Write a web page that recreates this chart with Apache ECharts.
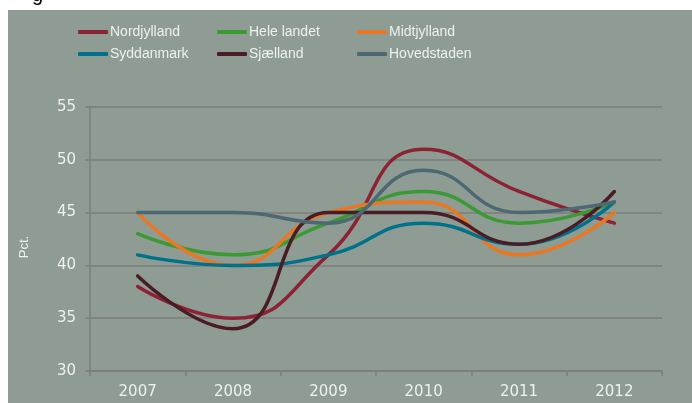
<!DOCTYPE html>
<html>
<head>
<meta charset="utf-8">
<script src="https://cdn.jsdelivr.net/npm/echarts@6/dist/echarts.min.js"></script>
<style>
  html, body { margin: 0; padding: 0; background: #fff; }
  #chart { width: 692px; height: 403px; }
</style>
</head>
<body>
<div id="chart"></div>
<script>
const years = ["2007", "2008", "2009", "2010", "2011", "2012"];

const nordjylland = [38, 35, 41, 51, 47, 44];
const heleLandet = [43, 41, 44, 47, 44, 46];
const midtjylland = [45, 40, 45, 46, 41, 45];
const syddanmark = [41, 40, 41, 44, 42, 46];
const sjaelland = [39, 34, 45, 45, 42, 47];
const hovedstaden = [45, 45, 44, 49, 45, 46];

const seriesDefs = [
  { name: "Nordjylland", data: nordjylland, color: "#8c2335", left: 78, top: 25 },
  { name: "Hele landet", data: heleLandet, color: "#3b9a34", left: 217, top: 25 },
  { name: "Midtjylland", data: midtjylland, color: "#ea7722", left: 357, top: 25 },
  { name: "Syddanmark", data: syddanmark, color: "#00718b", left: 78, top: 47 },
  { name: "Sjælland", data: sjaelland, color: "#4a1d26", left: 217, top: 47 },
  { name: "Hovedstaden", data: hovedstaden, color: "#4d6873", left: 357, top: 47 },
];

const textColor = "#eef1ee";
const gridColor = "#7b7e7b";

const chart = echarts.init(document.getElementById("chart"));
chart.setOption({
  backgroundColor: "#fff",
  animation: false,
  graphic: [
    { type: "rect", z: -10, silent: true, shape: { x: 8, y: 10, width: 684, height: 393 }, style: { fill: "#8e9c94" } },
    { type: "text", left: 32, top: -15, style: { text: "g", fontSize: 20, fill: "#000", fontFamily: "Liberation Sans" } },
    { type: "text", x: 24, y: 247, rotation: Math.PI / 2, style: { text: "Pct.", fontSize: 13, fill: textColor, fontFamily: "Liberation Sans", align: "center", verticalAlign: "middle" } },
  ],
  legend: seriesDefs.map(s => ({
    data: [s.name],
    left: s.left,
    top: s.top,
    padding: 0,
    itemWidth: 30,
    itemHeight: 4,
    itemGap: 2,
    icon: "roundRect",
    textStyle: { color: textColor, fontSize: 14, fontFamily: "Liberation Sans", padding: [0, 0, 0, -3] },
  })),
  grid: { left: 90, right: 30, top: 107, bottom: 32 },
  xAxis: {
    type: "category",
    data: years,
    boundaryGap: true,
    axisLine: { lineStyle: { color: gridColor, width: 1.5 } },
    axisTick: { show: true, length: 5, lineStyle: { color: gridColor, width: 1.5 } },
    axisLabel: { color: textColor, fontSize: 15, fontFamily: "DejaVu Sans", margin: 14 },
  },
  yAxis: {
    type: "value",
    min: 30,
    max: 55,
    interval: 5,
    axisLine: { show: true, lineStyle: { color: gridColor, width: 1.5 } },
    axisTick: { show: true, length: 5, lineStyle: { color: gridColor, width: 1.5 } },
    splitLine: { lineStyle: { color: gridColor, width: 1.5 } },
    axisLabel: { color: textColor, fontSize: 15, fontFamily: "DejaVu Sans", margin: 14 },
  },
  series: seriesDefs.map(s => ({
    name: s.name,
    type: "line",
    data: s.data,
    smooth: 0.5,
    symbol: "none",
    color: s.color,
    lineStyle: { width: 3.5, color: s.color, cap: "round" },
  })),
});
</script>
</body>
</html>
